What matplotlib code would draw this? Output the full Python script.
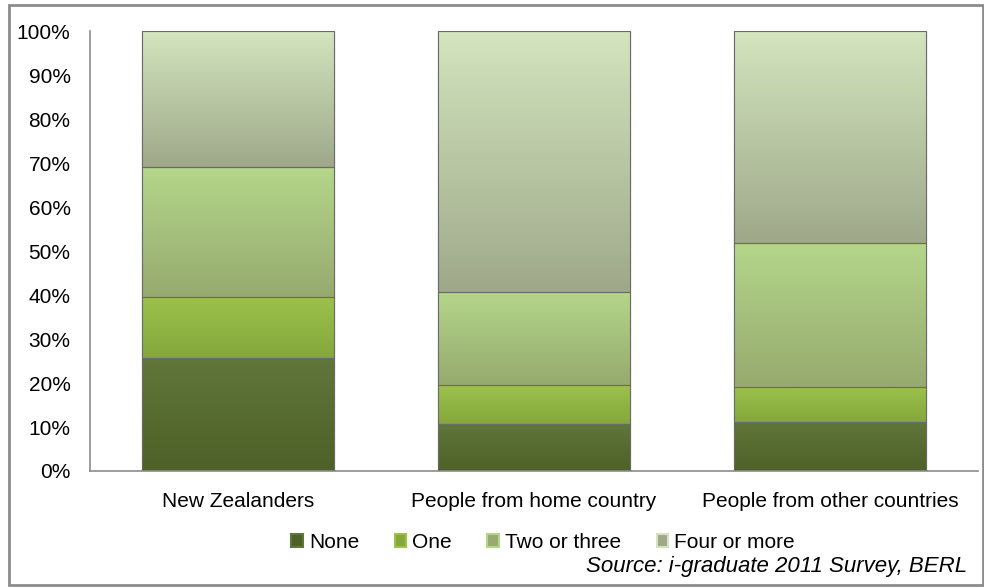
#!/usr/bin/env python3
"""Stacked 100% bar chart: number of close friends by origin group."""
import matplotlib

matplotlib.use("Agg")
import matplotlib.pyplot as plt
import numpy as np
from matplotlib.patches import Rectangle

plt.rcParams["font.family"] = ["Liberation Sans", "DejaVu Sans"]

CATEGORIES = ["New Zealanders", "People from home country", "People from other countries"]
SERIES = ["None", "One", "Two or three", "Four or more"]
NONE = [25.6, 10.7, 11.2]
ONE = [14.0, 8.8, 8.0]
TWO_THREE = [29.6, 21.2, 32.7]
FOUR_PLUS = [30.8, 59.3, 48.1]

# (top, bottom) colours per series for a light vertical gradient
COLORS = [
    ("#60763A", "#4E6128"),
    ("#9CC24C", "#85A73C"),
    ("#B4D68A", "#97AA6F"),
    ("#D3E4BE", "#9FA98A"),
]


def shade_bar(ax, x, bottom, height, width, c_top, c_bot):
    bar = ax.bar(x, height, width, bottom=bottom, color=c_bot,
                 edgecolor="#6A6A6A", linewidth=0.8, zorder=2)[0]
    grad = np.linspace(0, 1, 64).reshape(-1, 1)
    top = np.array(matplotlib.colors.to_rgb(c_top))
    bot = np.array(matplotlib.colors.to_rgb(c_bot))
    img = grad[..., None] * top + (1 - grad[..., None]) * bot
    im = ax.imshow(img, extent=(x - width / 2, x + width / 2, bottom, bottom + height),
                   origin="lower", aspect="auto", zorder=2.5)
    im.set_clip_path(bar)
    ax.add_patch(Rectangle((x - width / 2, bottom), width, height, fill=False,
                           edgecolor="#6A6A6A", linewidth=0.8, zorder=3))
    return bar


fig = plt.figure(figsize=(9.84, 5.88), dpi=100)
ax = fig.add_axes([0.0915, 0.199, 0.9024, 0.748])

data = [NONE, ONE, TWO_THREE, FOUR_PLUS]
xs = np.arange(len(CATEGORIES))
width = 0.65
handles = []
bottoms = np.zeros(len(CATEGORIES))
for vals, (ct, cb), name in zip(data, COLORS, SERIES):
    for i, v in enumerate(vals):
        shade_bar(ax, xs[i], bottoms[i], v, width, ct, cb)
    handles.append(Rectangle((0, 0), 1, 1, facecolor=cb, edgecolor=ct, linewidth=1.5))
    bottoms += np.array(vals)

ax.set_xlim(-0.5, 2.5)
ax.set_ylim(0, 100)
ax.set_yticks(np.arange(0, 101, 10))
ax.set_yticklabels([f"{v}%" for v in range(0, 101, 10)], fontsize=15)
ax.set_xticks(xs)
ax.set_xticklabels(CATEGORIES, fontsize=15)
ax.tick_params(axis="x", length=0, pad=15)
ax.tick_params(axis="y", length=0, pad=14)
for s in ("top", "right"):
    ax.spines[s].set_visible(False)
for s in ("left", "bottom"):
    ax.spines[s].set_color("#8C8C8C")
    ax.spines[s].set_linewidth(1.2)

fig.legend(handles, SERIES, loc="center", bbox_to_anchor=(0.552, 0.078), ncol=4,
           frameon=False, fontsize=15, handlelength=0.55, handleheight=0.55,
           handletextpad=0.3, columnspacing=1.7, borderpad=0)
fig.text(0.983, 0.037, "Source: i-graduate 2011 Survey, BERL", ha="right", va="center",
         fontsize=16, style="italic")

fig.add_artist(Rectangle((0.009, 0.005), 0.99, 0.987, transform=fig.transFigure,
                         fill=False, edgecolor="#8C8C8C", linewidth=2))

fig.savefig("out.png", dpi=100)
